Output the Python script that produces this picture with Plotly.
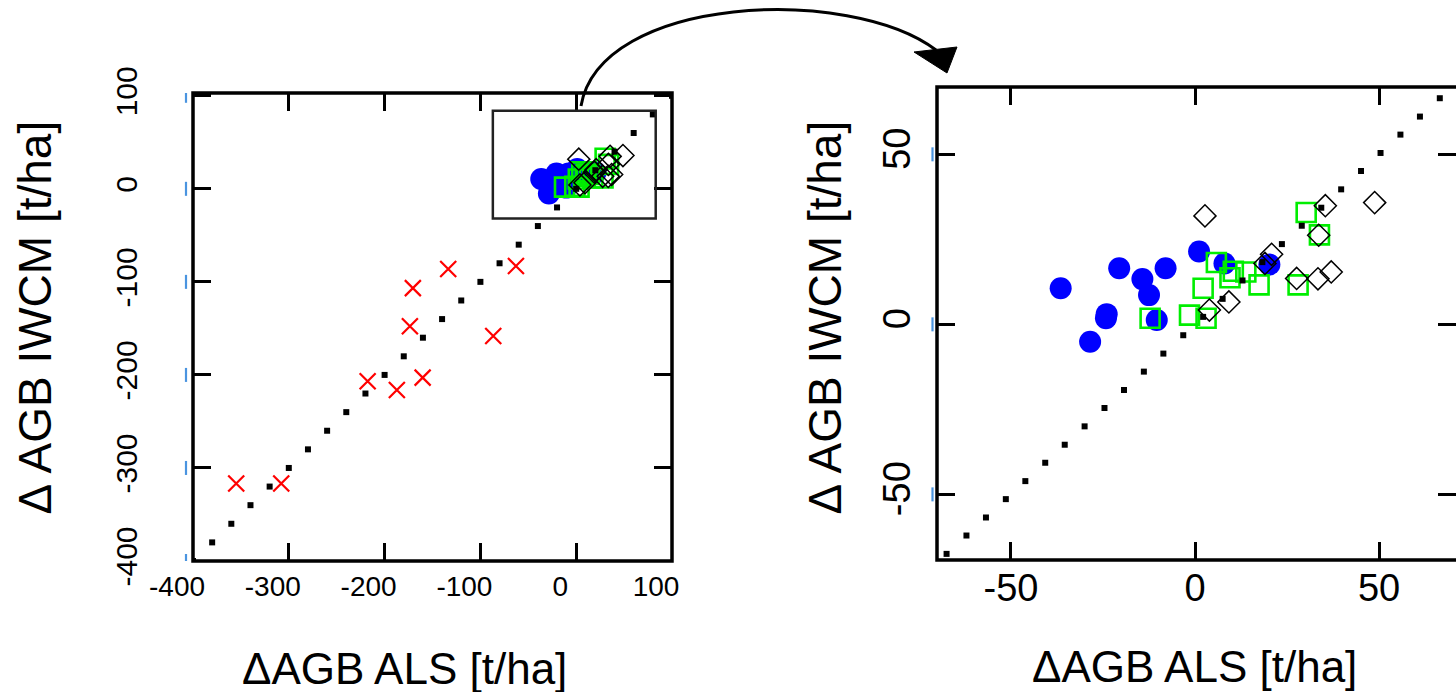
import plotly.graph_objects as go

W, H = 1456, 692
FONT = "Liberation Sans, Arial, sans-serif"

# ---------------- data ----------------
# 1:1 reference line samples (dotted line), left panel
ref_left = [-400, -380, -360, -340, -320, -300, -280, -260, -240, -220, -200,
            -180, -160, -140, -120, -100, -80, -60, -40, -20, 0, 20, 40, 60, 80, 100]
# 1:1 reference line samples, right (zoomed) panel
ref_right = [-67.5, -62.1, -56.8, -51.4, -46.1, -40.7, -35.4, -30.0, -24.6, -19.3,
             -13.9, -8.6, -3.2, 2.2, 7.5, 12.9, 18.3, 23.6, 29.0, 34.3, 39.7, 45.1,
             50.4, 55.8, 61.1, 66.5]

# red crosses (left panel only)
cross_x = [-354.9, -307.9, -217.7, -187.2, -160.3, -173.6, -170.5, -133.6, -86.6, -62.9]
cross_y = [-316.8, -316.8, -206.9, -216.3, -202.9, -147.6, -106.7, -86.2, -158.1, -83.0]

# blue filled circles
blue_x = [-36.5, -20.6, -8.0, -14.3, -12.5, -24.0, -24.2, -28.5, -10.4, 1.1, 8.0, 20.2]
blue_y = [10.6, 16.5, 16.5, 13.3, 8.6, 3.0, 1.8, -5.1, 1.3, 21.4, 17.9, 17.6]

# green open squares
green_x = [30.2, 33.8, 5.8, 10.4, 9.5, 13.8, 2.2, 17.4, 28.0, -12.2, -1.5, 3.0]
green_y = [32.9, 26.3, 18.2, 15.6, 13.7, 15.4, 10.6, 11.6, 11.6, 1.8, 2.7, 1.8]

# black open diamonds
dia_x = [2.7, 35.4, 48.8, 33.6, 20.8, 19.0, 27.6, 33.4, 37.0, 9.2, 3.9]
dia_y = [31.9, 34.9, 35.8, 26.2, 20.6, 17.9, 13.5, 13.4, 15.4, 6.6, 4.2]

left_ticks = [-400, -300, -200, -100, 0, 100]
left_ticktext = ["-400", "-300", "-200", "-100", "0", "100"]
right_ticks = [-50, 0, 50]
right_ticktext = ["-50", "0", "50"]
LEFT_RANGE_X = [-400, 100]
LEFT_RANGE_Y = [-400, 103]
RIGHT_RANGE_X = [-70.1, 70.9]
RIGHT_RANGE_Y = [-69.3, 69.8]
INSET_X = [-87, 83]
INSET_Y = [-32, 84]

xlabel = "ΔAGB ALS [t/ha]"
ylabel = "Δ AGB IWCM [t/ha]"

# ---------------- figure ----------------
fig = go.Figure()


def add_cluster(xa, ya):
    fig.add_trace(go.Scatter(x=blue_x, y=blue_y, mode="markers", xaxis=xa, yaxis=ya,
                             marker=dict(symbol="circle", size=22, color="#0000ff",
                                         line=dict(width=0)), showlegend=False))
    fig.add_trace(go.Scatter(x=green_x, y=green_y, mode="markers", xaxis=xa, yaxis=ya,
                             marker=dict(symbol="square-open", size=19, color="#00ee00",
                                         line=dict(width=2.6, color="#00ee00")),
                             showlegend=False))
    fig.add_trace(go.Scatter(x=dia_x, y=dia_y, mode="markers", xaxis=xa, yaxis=ya,
                             marker=dict(symbol="diamond-open", size=17, color="black",
                                         line=dict(width=1.5, color="black")),
                             showlegend=False))


# left panel
fig.add_trace(go.Scatter(x=cross_x, y=cross_y, mode="markers", xaxis="x", yaxis="y",
                         marker=dict(symbol="x-thin", size=16, color="#ff0000",
                                     line=dict(width=2.2, color="#ff0000")),
                         showlegend=False))
add_cluster("x", "y")
fig.add_trace(go.Scatter(x=ref_left, y=ref_left, mode="markers", xaxis="x", yaxis="y",
                         marker=dict(symbol="square", size=6, color="black",
                                     line=dict(width=0)), showlegend=False))
# right panel
add_cluster("x2", "y2")
fig.add_trace(go.Scatter(x=ref_right, y=ref_right, mode="markers", xaxis="x2", yaxis="y2",
                         marker=dict(symbol="square", size=6, color="black",
                                     line=dict(width=0)), showlegend=False))

axis_common = dict(showgrid=False, zeroline=False, showline=False, ticks="inside",
                   ticklen=18, tickwidth=3, tickcolor="black", mirror="ticks",
                   fixedrange=True, automargin=False)

fig.update_layout(
    width=W, height=H, autosize=False,
    margin=dict(l=0, r=0, t=0, b=0, autoexpand=False),
    paper_bgcolor="white", plot_bgcolor="white",
    font=dict(family=FONT, color="black"),
    xaxis=dict(domain=[193 / W, 672 / W], range=LEFT_RANGE_X, anchor="y",
               tickvals=left_ticks, ticktext=left_ticktext,
               tickfont=dict(size=28, family=FONT),
               ticklabelstandoff=6, ticklabelshift=-16, **axis_common),
    yaxis=dict(domain=[1 - 561 / H, 1 - 93 / H], range=LEFT_RANGE_Y, anchor="x",
               tickvals=left_ticks, ticktext=left_ticktext, tickangle=-90,
               tickfont=dict(size=30, family=FONT),
               ticklabelstandoff=49, **axis_common),
    xaxis2=dict(domain=[937 / W, 1.0], range=RIGHT_RANGE_X, anchor="y2",
                tickvals=right_ticks, ticktext=right_ticktext,
                tickfont=dict(size=38, family=FONT),
                ticklabelstandoff=2, **axis_common),
    yaxis2=dict(domain=[1 - 560 / H, 1 - 87 / H], range=RIGHT_RANGE_Y, anchor="x2",
                tickvals=right_ticks, ticktext=right_ticktext, tickangle=-90,
                tickfont=dict(size=38, family=FONT),
                ticklabelstandoff=18, **axis_common),
)

shapes = []
# frames
shapes.append(dict(type="rect", xref="x domain", yref="y domain", x0=0, x1=1, y0=0, y1=1,
                   line=dict(color="black", width=3.5), layer="above"))
shapes.append(dict(type="rect", xref="x2 domain", yref="y2 domain", x0=0, x1=1.05, y0=0, y1=1,
                   line=dict(color="black", width=3.5), layer="above"))
# inset rectangle on left panel
shapes.append(dict(type="rect", xref="x", yref="y", x0=INSET_X[0], x1=INSET_X[1],
                   y0=INSET_Y[0], y1=INSET_Y[1], line=dict(color="#222222", width=2.5),
                   layer="above"))
# faint blue tick artefacts left of y axes
for t in left_ticks:
    shapes.append(dict(type="line", xref="x domain", yref="y", xsizemode="pixel",
                       ysizemode="pixel", xanchor=0, yanchor=t, x0=-7, x1=-7, y0=-7, y1=7,
                       line=dict(color="#4a94e0", width=2.2)))
for t in right_ticks:
    shapes.append(dict(type="line", xref="x2 domain", yref="y2", xsizemode="pixel",
                       ysizemode="pixel", xanchor=0, yanchor=t, x0=-4.5, x1=-4.5, y0=-7, y1=7,
                       line=dict(color="#4a94e0", width=2.2)))


def P(x, y):
    return f"{x / W:.5f},{1 - y / H:.5f}"


# curved arrow from inset to zoomed panel
shapes.append(dict(type="path", xref="paper", yref="paper",
                   path=f"M{P(581, 106)} C{P(600, -5)} {P(850, -15)} {P(936, 50)}",
                   line=dict(color="black", width=3)))
shapes.append(dict(type="path", xref="paper", yref="paper",
                   path=f"M{P(914, 52)} L{P(957, 47)} L{P(947, 73)} Z",
                   fillcolor="black", line=dict(color="black", width=1)))
fig.update_layout(shapes=shapes)

annotations = [
    dict(text=xlabel, x=404 / W, y=1 - 668.5 / H, xref="paper", yref="paper",
         xanchor="center", yanchor="middle", showarrow=False,
         font=dict(size=44, family=FONT, color="black")),
    dict(text=xlabel, x=1194 / W, y=1 - 666.5 / H, xref="paper", yref="paper",
         xanchor="center", yanchor="middle", showarrow=False,
         font=dict(size=44, family=FONT, color="black")),
    dict(text=ylabel, x=34.5 / W, y=1 - 318 / H, xref="paper", yref="paper",
         xanchor="center", yanchor="middle", showarrow=False, textangle=-90,
         font=dict(size=46, family=FONT, color="black")),
    dict(text=ylabel, x=824.5 / W, y=1 - 318 / H, xref="paper", yref="paper",
         xanchor="center", yanchor="middle", showarrow=False, textangle=-90,
         font=dict(size=46, family=FONT, color="black")),
]
fig.update_layout(annotations=annotations)

fig.write_html("out.html",
               config={"displayModeBar": False},
               post_script="document.body.style.margin='0px';"
                           "document.body.style.overflow='hidden';")
